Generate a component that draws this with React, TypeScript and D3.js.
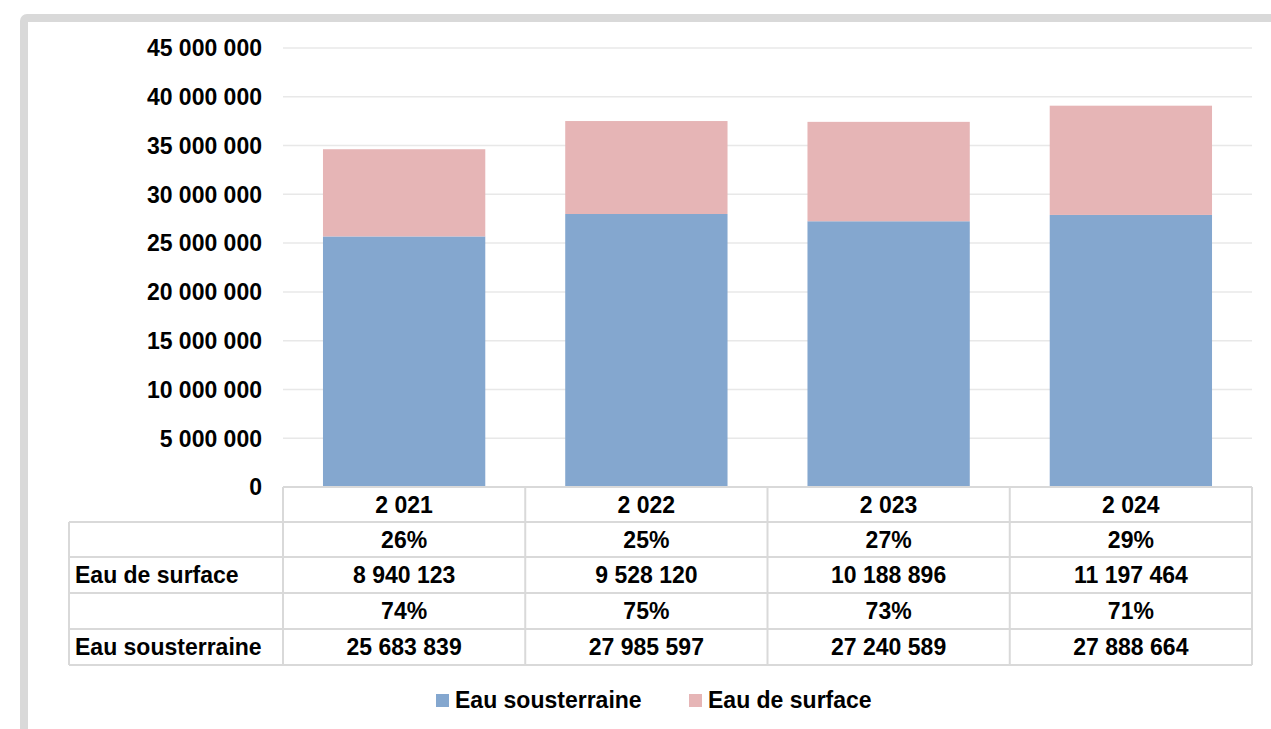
import React from "react";
import * as d3 from "d3";

const years = ["2 021", "2 022", "2 023", "2 024"];
const surface = [8940123, 9528120, 10188896, 11197464];
const souterraine = [25683839, 27985597, 27240589, 27888664];
const surfacePct = ["26%", "25%", "27%", "29%"];
const souterrainePct = ["74%", "75%", "73%", "71%"];
const yTicks = [0, 5000000, 10000000, 15000000, 20000000, 25000000, 30000000, 35000000, 40000000, 45000000];
const seriesNames = ["Eau sousterraine", "Eau de surface"];
const colors = ["#84A7CF", "#E6B5B6"];

const fmtSp = (v: number) => d3.format(",")(v).replace(/,/g, " ");

export default function App() {
  const W = 1271, H = 729;
  const left = 283, right = 1252, top = 48, bottom = 487;
  const x = d3.scaleBand<string>().domain(years).range([left, right]).paddingInner(0.33).paddingOuter(0.165);
  const xc = d3.scaleBand<string>().domain(years).range([left, right]);
  const y = d3.scaleLinear().domain([0, 45000000]).range([bottom, top]);
  const font = "'Liberation Sans', Arial, sans-serif";
  const fs = 23;
  const rowsY = [487, 522, 557, 593, 629, 665];
  const tableLeft = 69;
  const gridColor = "#d9d9d9";
  const rows: { label: string; vals: string[] }[] = [
    { label: "", vals: surfacePct },
    { label: "Eau de surface", vals: surface.map(fmtSp) },
    { label: "", vals: souterrainePct },
    { label: "Eau sousterraine", vals: souterraine.map(fmtSp) },
  ];
  return (
    <svg width={W} height={H} style={{ position: "absolute", left: 0, top: 0, background: "#fff" }} fontFamily={font}>
      <rect x={24} y={18} width={1400} height={900} rx={3} fill="#fff" stroke="#d9d9d9" strokeWidth={8} />
      {yTicks.map((t) => (
        <g key={t}>
          {t > 0 && <line x1={left} x2={right} y1={y(t)} y2={y(t)} stroke="#e8e8e8" strokeWidth={1.5} />}
          <text x={262} y={y(t)} dy="0.36em" textAnchor="end" fontSize={fs} fontWeight="bold" fill="#000">
            {t === 0 ? "0" : fmtSp(t)}
          </text>
        </g>
      ))}
      {years.map((yr, i) => (
        <g key={yr}>
          <rect x={x(yr)} width={x.bandwidth()} y={y(souterraine[i])} height={y(0) - y(souterraine[i])} fill={colors[0]} />
          <rect x={x(yr)} width={x.bandwidth()} y={y(souterraine[i] + surface[i])} height={y(souterraine[i]) - y(souterraine[i] + surface[i])} fill={colors[1]} />
        </g>
      ))}
      <g stroke={gridColor} strokeWidth={2} fill="none">
        <line x1={left} x2={right} y1={rowsY[0]} y2={rowsY[0]} />
        {rowsY.slice(1).map((ry) => (
          <line key={ry} x1={tableLeft} x2={right} y1={ry} y2={ry} />
        ))}
        <line x1={tableLeft} x2={tableLeft} y1={rowsY[1]} y2={rowsY[5]} />
        {years.map((yr) => (
          <line key={yr} x1={xc(yr)} x2={xc(yr)} y1={rowsY[0]} y2={rowsY[5]} />
        ))}
        <line x1={right} x2={right} y1={rowsY[0]} y2={rowsY[5]} />
      </g>
      {years.map((yr) => (
        <text key={yr} x={(xc(yr) as number) + xc.bandwidth() / 2} y={(rowsY[0] + rowsY[1]) / 2} dy="0.36em" textAnchor="middle" fontSize={fs} fontWeight="bold">
          {yr}
        </text>
      ))}
      {rows.map((r, ri) => {
        const cy = (rowsY[ri + 1] + rowsY[ri + 2]) / 2;
        return (
          <g key={ri}>
            {r.label && (
              <text x={75} y={cy} dy="0.36em" fontSize={fs} fontWeight="bold">{r.label}</text>
            )}
            {r.vals.map((v, i) => (
              <text key={i} x={(xc(years[i]) as number) + xc.bandwidth() / 2} y={cy} dy="0.36em" textAnchor="middle" fontSize={fs} fontWeight="bold">
                {v}
              </text>
            ))}
          </g>
        );
      })}
      <g>
        <rect x={436} y={694} width={13} height={13} fill={colors[0]} />
        <text x={455} y={700} dy="0.36em" fontSize={fs} fontWeight="bold">{seriesNames[0]}</text>
        <rect x={689} y={694} width={13} height={13} fill={colors[1]} />
        <text x={708} y={700} dy="0.36em" fontSize={fs} fontWeight="bold">{seriesNames[1]}</text>
      </g>
    </svg>
  );
}
